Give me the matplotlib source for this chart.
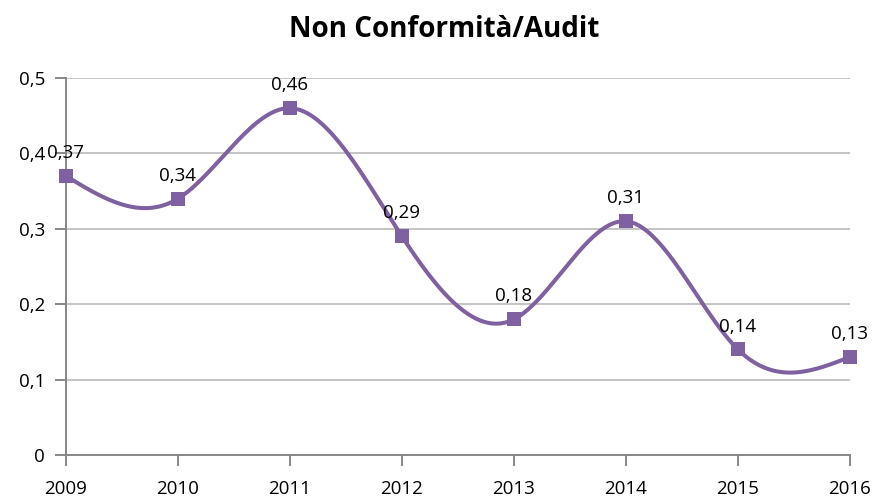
import numpy as np
import matplotlib
matplotlib.use("Agg")
import matplotlib.pyplot as plt

years = ["2009", "2010", "2011", "2012", "2013", "2014", "2015", "2016"]
values = [0.37, 0.34, 0.46, 0.29, 0.18, 0.31, 0.14, 0.13]
y_ticks = [0, 0.1, 0.2, 0.3, 0.4, 0.5]
y_tick_labels = ["0", "0,1", "0,2", "0,3", "0,4", "0,5"]
title = "Non Conformità/Audit"

plt.rcParams['font.family'] = ['Open Sans', 'DejaVu Sans']

color = "#7F60A0"

fig = plt.figure(figsize=(8.89, 5), dpi=100)
ax = fig.add_axes([0.0742, 0.09, 0.8818, 0.754])

x = np.arange(len(values), dtype=float)
y = np.array(values)
n = len(x)

# smoothed line: natural cubic spline through the data points
A = np.zeros((n, n)); b = np.zeros(n)
A[0, 0] = 1; A[-1, -1] = 1
for i in range(1, n - 1):
    A[i, i - 1] = 1; A[i, i] = 4; A[i, i + 1] = 1
    b[i] = 6 * (y[i + 1] - 2 * y[i] + y[i - 1])
M = np.linalg.solve(A, b)
xs, ys = [], []
for i in range(n - 1):
    t = np.linspace(0, 1, 80)
    ys.extend((1 - t) * y[i] + t * y[i + 1]
              + ((1 - t) ** 3 - (1 - t)) * M[i] / 6 + (t ** 3 - t) * M[i + 1] / 6)
    xs.extend(x[i] + t)

ax.plot(xs, ys, color=color, lw=2.9, solid_capstyle='round', zorder=3, clip_on=False)
ax.plot(x, y, linestyle='none', marker='s', markersize=10, markeredgewidth=0,
        color=color, zorder=4, clip_on=False)

for xi, yi in zip(x, y):
    ax.annotate(f"{yi:.2f}".replace(".", ","), (xi, yi), xytext=(0, 10),
                textcoords='offset points', ha='center', va='bottom',
                fontsize=13.5, color='#000000', zorder=5, annotation_clip=False)

ax.set_xlim(0, n - 1)
ax.set_ylim(0, 0.5)
ax.set_xticks(x)
ax.set_xticklabels(years, fontsize=13.5)
ax.set_yticks(y_ticks)
ax.set_yticklabels(y_tick_labels, fontsize=13.5)
ax.yaxis.grid(True, color='#BFBFBF', lw=1.3)
ax.set_axisbelow(True)
for s in ['top', 'right']:
    ax.spines[s].set_visible(False)
for s in ['left', 'bottom']:
    ax.spines[s].set_color('#878787')
    ax.spines[s].set_linewidth(1.4)
ax.tick_params(axis='both', direction='out', length=8, color='#878787', width=1.4)
ax.tick_params(axis='x', pad=10)
ax.tick_params(axis='y', pad=7)

fig.text(0.5, 1 - 37 / 500, title, ha='center', va='baseline', fontsize=20, fontweight='bold')

fig.savefig("out.png", dpi=100)
